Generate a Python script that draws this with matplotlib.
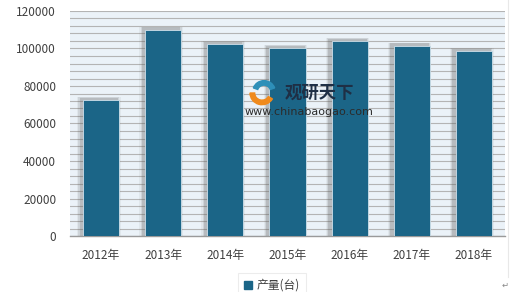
import numpy as np
import matplotlib
matplotlib.use("Agg")
import matplotlib.pyplot as plt
from matplotlib.patches import Wedge, Rectangle
from matplotlib.lines import Line2D

plt.rcParams['font.family'] = ['Noto Sans CJK SC', 'DejaVu Sans']

years = ['2012年', '2013年', '2014年', '2015年', '2016年', '2017年', '2018年']
output = [72500, 110000, 102500, 100300, 104000, 101500, 98700]
y_ticks = [0, 20000, 40000, 60000, 80000, 100000, 120000]
series_name = '产量(台)'

bar_color = '#1B6587'
text_color = '#404040'

fig = plt.figure(figsize=(5.2, 2.92), dpi=100)
fig.patch.set_facecolor('white')
ax = fig.add_axes([70 / 520, 1 - 236 / 292, 435 / 520, 225 / 292])
ax.set_facecolor('#EBF2F8')

x = np.arange(len(years))
w = 0.58

# soft shadow behind bars (offset up-left)
for grow, alpha in [(0.12, 0.08), (0.08, 0.14), (0.04, 0.22)]:
    ax.bar(x - 0.035, np.array(output) + 1000 + grow * 5000, width=w + grow,
           color='#666666', alpha=alpha, zorder=2, linewidth=0)

ax.bar(x, output, width=w, color=bar_color, edgecolor='#cfe0ea',
       linewidth=0.6, zorder=3, label=series_name)

ax.set_xlim(-0.5, len(years) - 0.5)
ax.set_ylim(0, 120000)
ax.set_yticks(y_ticks)
ax.set_yticklabels([str(v) for v in y_ticks])
ax.set_yticks(np.arange(0, 120001, 4000), minor=True)
ax.yaxis.grid(True, which='both', color='#b4b4b4', linewidth=0.8, zorder=1)
ax.set_axisbelow(True)
ax.set_xticks(x)
ax.set_xticklabels(years)
ax.tick_params(axis='both', which='both', length=0, colors=text_color,
               labelsize=8.5)
ax.tick_params(axis='y', pad=10)
ax.tick_params(axis='x', pad=9)
for s in ['top', 'right', 'left']:
    ax.spines[s].set_visible(False)
ax.spines['bottom'].set_color('#9a9a9a')
ax.spines['bottom'].set_linewidth(1.0)

# legend
leg = fig.legend(handles=[Rectangle((0, 0), 1, 1, color=bar_color)],
                 labels=[series_name], loc='upper left',
                 bbox_to_anchor=(232 / 520, 1 - 267 / 292), frameon=True,
                 fancybox=False, handlelength=0.7, handleheight=0.7,
                 handletextpad=0.4, borderpad=0.5, fontsize=8.5)
leg.get_frame().set_edgecolor('#e8e8e8')
leg.get_frame().set_linewidth(0.8)
for t in leg.get_texts():
    t.set_color(text_color)

# watermark
fig.text(285 / 520, 1 - 93 / 292, '观研天下', fontsize=12.5, fontweight='bold',
         color='#1f2f45', va='center', ha='left')
fig.text(245 / 520, 1 - 112 / 292, 'www.chinabaogao.com', fontsize=8,
         color='#2b2b2b', va='center', ha='left', family=['DejaVu Sans'])
lax = fig.add_axes([246 / 520, 1 - 106 / 292, 32 / 520, 26 / 292])
lax.set_xlim(-1.2, 1.2)
lax.set_ylim(-1, 1)
lax.axis('off')
lax.add_patch(Wedge((0, 0), 0.9, 180, 330, width=0.35, color='#F08A1C'))
lax.add_patch(Wedge((0.15, 0.1), 0.85, 20, 160, width=0.35, color='#2E8FB8'))

# chart frame line on the right and paragraph mark
fig.add_artist(Line2D([508 / 520, 508 / 520], [0.05, 1], color='#e8e8e8',
                      linewidth=0.8, transform=fig.transFigure))
fig.text(505 / 520, 1 - 285 / 292, '↵', fontsize=6, color='#888888',
         ha='center', va='center', family=['DejaVu Sans'])

fig.savefig('out.png', dpi=100)
